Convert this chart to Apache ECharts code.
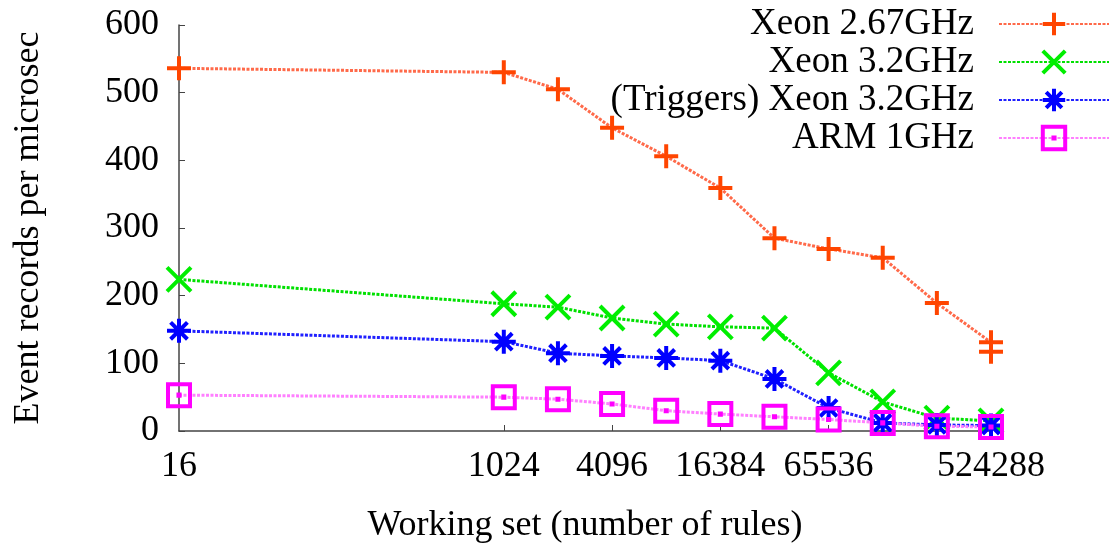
<!DOCTYPE html>
<html>
<head>
<meta charset="utf-8">
<script src="https://cdn.jsdelivr.net/npm/echarts@6/dist/echarts.min.js"></script>
<style>
  html, body { margin: 0; padding: 0; background: #fff; }
  #chart { width: 1110px; height: 545px; }
</style>
</head>
<body>
<div id="chart"></div>
<script>
const FONT = '"Liberation Serif", "DejaVu Serif", serif'

// working set sizes (number of rules)
const rules = [16, 1024, 2048, 4096, 8192, 16384, 32768, 65536, 131072, 262144, 524288]
const xLabels = [16, 1024, 4096, 16384, 65536, 524288]
const xTicks = [1024, 4096, 16384, 65536]

// event records per microsec
const xeon267 = [536, 530, 505, 448, 406, 359, 285, 269, 256, 189, 131]
const xeon267Extra = [524288, 117] // second run at the largest size
const xeon32 = [224, 188, 183, 167, 158, 154, 152, 86, 43, 19, 15]
const triggers32 = [148, 132, 115, 111, 108, 104, 77, 34, 12, 9, 8]
const arm1 = [53, 50, 47, 40, 30, 25, 21, 17, 12, 7, 6]

const names = ['Xeon 2.67GHz', 'Xeon 3.2GHz', '(Triggers) Xeon 3.2GHz', 'ARM 1GHz']

const pair = (vals) => rules.map((r, i) => [r, vals[i]])

const symPlus = 'path://M0,10L20,10M10,0L10,20'
const symCross = 'path://M0,0L20,20M20,0L0,20'
const symStar = 'path://M0,10L20,10M10,0L10,20M3,3L17,17M17,3L3,17'
const symBox = 'path://M0,0L20,0L20,20L0,20ZM9.5,9.5L10.5,9.5L10.5,10.5L9.5,10.5Z'

const makeSeries = (name, data, sym, size, mark, line) => ({
  name,
  type: 'line',
  data,
  symbol: sym,
  symbolSize: size,
  showAllSymbol: true,
  itemStyle: { color: 'rgba(0,0,0,0)', borderColor: mark, borderWidth: 4 },
  lineStyle: { color: line, width: 3, type: [3, 1.5] },
  emphasis: { disabled: true },
  z: 3
})

const chart = echarts.init(document.getElementById('chart'))

chart.setOption({
  animation: false,
  grid: { left: 179, right: 119, top: 25, bottom: 114, outerBoundsMode: 'none' },
  legend: {
    orient: 'vertical',
    right: 0,
    top: 5,
    padding: 0,
    align: 'right',
    itemWidth: 110,
    itemHeight: 28,
    itemGap: 0,
    data: names,
    itemStyle: { borderWidth: 4 },
    textStyle: { fontFamily: FONT, fontSize: 37, color: '#000', lineHeight: 38, padding: [0, 20, 0, 0] }
  },
  xAxis: {
    type: 'log',
    logBase: 2,
    min: 16,
    max: 524288,
    name: 'Working set (number of rules)',
    nameLocation: 'middle',
    nameGap: 77,
    nameTextStyle: { fontFamily: FONT, fontSize: 36, color: '#000' },
    axisLine: { lineStyle: { color: '#444', width: 1.5 } },
    axisTick: { inside: true, length: 6, customValues: xTicks, lineStyle: { color: '#444' } },
    axisLabel: { customValues: xLabels, fontFamily: FONT, fontSize: 36, color: '#000', margin: 18,
      formatter: (v) => String(Math.round(v)) },
    splitLine: { show: false }
  },
  yAxis: {
    type: 'value',
    min: 0,
    max: 600,
    interval: 100,
    name: 'Event records per microsec',
    nameLocation: 'middle',
    nameGap: 132,
    nameTextStyle: { fontFamily: FONT, fontSize: 36, color: '#000' },
    axisLine: { show: true, lineStyle: { color: '#444', width: 1.5 } },
    axisTick: { show: true, inside: true, length: 6, lineStyle: { color: '#444' } },
    axisLabel: { fontFamily: FONT, fontSize: 36, color: '#000', margin: 20 },
    splitLine: { show: false }
  },
  series: [
    makeSeries(names[0], pair(xeon267).concat([xeon267Extra]), symPlus, 24, '#ff4500', '#ff6a4a'),
    makeSeries(names[1], pair(xeon32), symCross, 24, '#00ee00', '#00e000'),
    makeSeries(names[2], pair(triggers32), symStar, 24, '#0000ff', '#2020ff'),
    makeSeries(names[3], pair(arm1), symBox, 22, '#ff00ff', '#ff80ff')
  ]
})
</script>
</body>
</html>
